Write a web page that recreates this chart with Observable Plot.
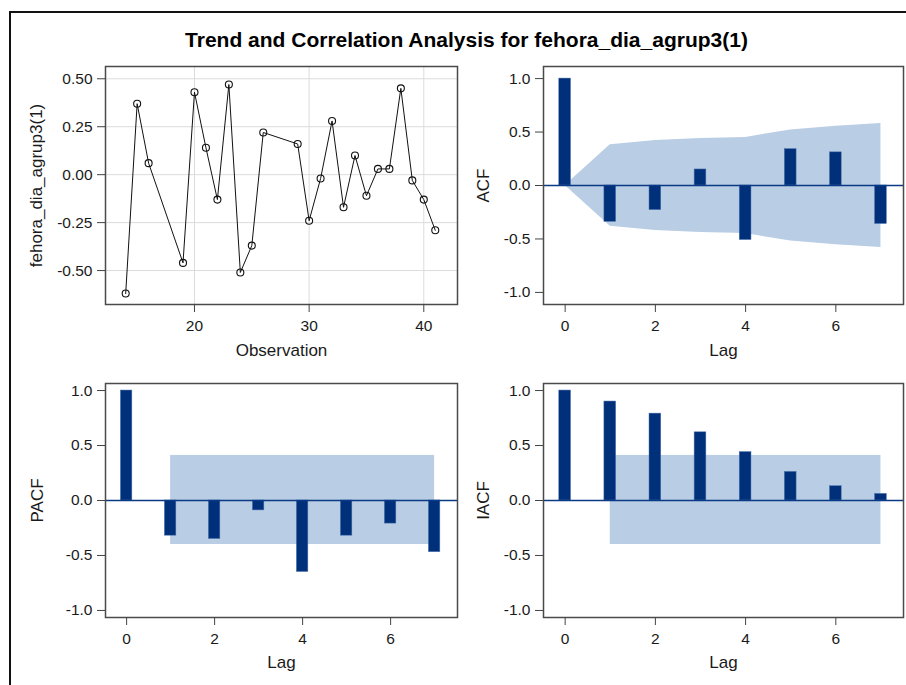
<!DOCTYPE html>
<html><head><meta charset="utf-8">
<script src="https://cdn.jsdelivr.net/npm/d3@7"></script>
<script src="https://cdn.jsdelivr.net/npm/@observablehq/plot@0.6"></script>
<style>
body{margin:0;background:#fff;}
#page{position:relative;width:906px;height:685px;overflow:hidden;font-family:"Liberation Sans",Arial,sans-serif;background:#fff;}
#border{position:absolute;left:9px;top:11px;width:1000px;height:1000px;border-left:2px solid #111;border-top:2px solid #111;}
#title{position:absolute;left:0;width:933px;top:28px;text-align:center;font-weight:bold;font-size:21px;color:#000;}
#page svg{position:absolute;left:0;top:0;}
</style></head><body>
<div id="page"><div id="border"></div><div id="title">Trend and Correlation Analysis for fehora_dia_agrup3(1)</div></div>
<script>
// ---- data ----
const obs = [14,15,16,19,20,21,22,23,24,25,26,29,30,31,32,33,34,35,36,37,38,39,40,41];
const series = [-0.62,0.37,0.06,-0.46,0.43,0.14,-0.13,0.47,-0.51,-0.37,0.22,0.16,-0.24,-0.02,0.28,-0.17,0.10,-0.11,0.03,0.03,0.45,-0.03,-0.13,-0.29];
const lags = [0,1,2,3,4,5,6,7];
const acf  = [1.0,-0.34,-0.23,0.15,-0.51,0.34,0.31,-0.36];
const acfUpper = [0,0.38,0.42,0.44,0.45,0.52,0.555,0.58];
const acfLower = [0,-0.38,-0.42,-0.44,-0.45,-0.52,-0.555,-0.58];
const pacf = [1.0,-0.32,-0.35,-0.09,-0.65,-0.32,-0.21,-0.47];
const iacf = [1.0,0.90,0.79,0.62,0.44,0.26,0.13,0.06];
const bandLag = [1,7];       // lag range of PACF/IACF band
const bandLimits = [-0.40,0.41];
const obsTicks = [20,30,40];
const seriesTicks = [-0.5,-0.25,0,0.25,0.5];
const lagTicks = [0,2,4,6];
const corrTicks = [-1,-0.5,0,0.5,1];

// ---- styling ----
const W = 906, H = 685;
const BAR = "#00307a", BAND = "#b9cde5", FRAME = "#4a4a4a", TXT = "#1a1a1a";
const tickFont = 15.5, labelFont = 17, halfBar = 0.13;
const page = document.getElementById("page");

function axes(xt, yt, xfmt, yfmt) {
  return [
    Plot.axisX(xt, {tickSize: 8, tickPadding: 7, fontSize: tickFont, stroke: "#444", fill: TXT, label: null, tickFormat: xfmt}),
    Plot.axisY(yt, {tickSize: 8, tickPadding: 5, fontSize: tickFont, stroke: "#444", fill: TXT, label: null, tickFormat: yfmt})
  ];
}
function labels(xl, yl, dy, dx) {
  return [
    Plot.text([xl], {frameAnchor: "bottom", dy, fontSize: labelFont, fill: TXT, textAnchor: "middle"}),
    Plot.text([yl], {frameAnchor: "left", dx, rotate: -90, fontSize: labelFont, fill: TXT, textAnchor: "middle"})
  ];
}
function make(box, xdom, ydom, marks) {
  const svg = Plot.plot({
    width: W, height: H,
    marginLeft: box[0], marginRight: W - box[1], marginTop: box[2], marginBottom: H - box[3],
    x: {domain: xdom}, y: {domain: ydom},
    style: {background: "transparent", fontFamily: "'Liberation Sans', Arial, sans-serif", overflow: "visible"},
    marks
  });
  page.appendChild(svg);
}
const f1 = d => d.toFixed(1), f2 = d => d.toFixed(2), f0 = d => String(d);

// ---- top-left: series plot ----
const pts = obs.map((o, i) => ({o, v: series[i]}));
make([105, 457, 66, 304], [12.24, 42.94], [-0.677, 0.564], [
  Plot.gridX(obsTicks, {stroke: "#dcdcdc", strokeOpacity: 1}),
  Plot.gridY(seriesTicks, {stroke: "#dcdcdc", strokeOpacity: 1}),
  Plot.line(pts, {x: "o", y: "v", stroke: "#111", strokeWidth: 1}),
  Plot.dot(pts, {x: "o", y: "v", r: 3.5, stroke: "#111", fill: "none", strokeWidth: 1.1}),
  Plot.frame({stroke: FRAME, strokeWidth: 1.5}),
  ...axes(obsTicks, seriesTicks, f0, f2),
  ...labels("Observation", "fehora_dia_agrup3(1)", 51, -69)
]);

function corrPanel(box, xdom, ydom, vals, band, ylab, xdy, ydx) {
  const data = lags.map((l, i) => ({l, v: vals[i]}));
  make(box, xdom, ydom, [
    band,
    Plot.rectY(data, {x1: d => d.l - halfBar, x2: d => d.l + halfBar, y: "v", fill: BAR, stroke: "#4d72b0", strokeWidth: 0.5}),
    Plot.ruleY([0], {stroke: "#0b3a85", strokeWidth: 1.5}),
    Plot.frame({stroke: FRAME, strokeWidth: 1.5}),
    ...axes(lagTicks, corrTicks, f0, f1),
    ...labels("Lag", ylab, xdy, ydx)
  ]);
}
const acfBandData = lags.map((l, i) => ({l, lo: acfLower[i], hi: acfUpper[i]}));
const bandRect = () => Plot.rect([{x1: bandLag[0], x2: bandLag[1], y1: bandLimits[0], y2: bandLimits[1]}], {x1: "x1", x2: "x2", y1: "y1", y2: "y2", fill: BAND});

corrPanel([543, 903, 66, 304], [-0.48, 7.5], [-1.113, 1.113], acf,
  Plot.areaY(acfBandData, {x: "l", y1: "lo", y2: "hi", fill: BAND}), "ACF", 51, -60);
corrPanel([105, 457, 383, 617], [-0.48, 7.52], [-1.064, 1.064], pacf, bandRect(), "PACF", 50, -68);
corrPanel([543, 903, 383, 617], [-0.48, 7.5], [-1.064, 1.064], iacf, bandRect(), "IACF", 50, -60);
</script>
</body></html>
